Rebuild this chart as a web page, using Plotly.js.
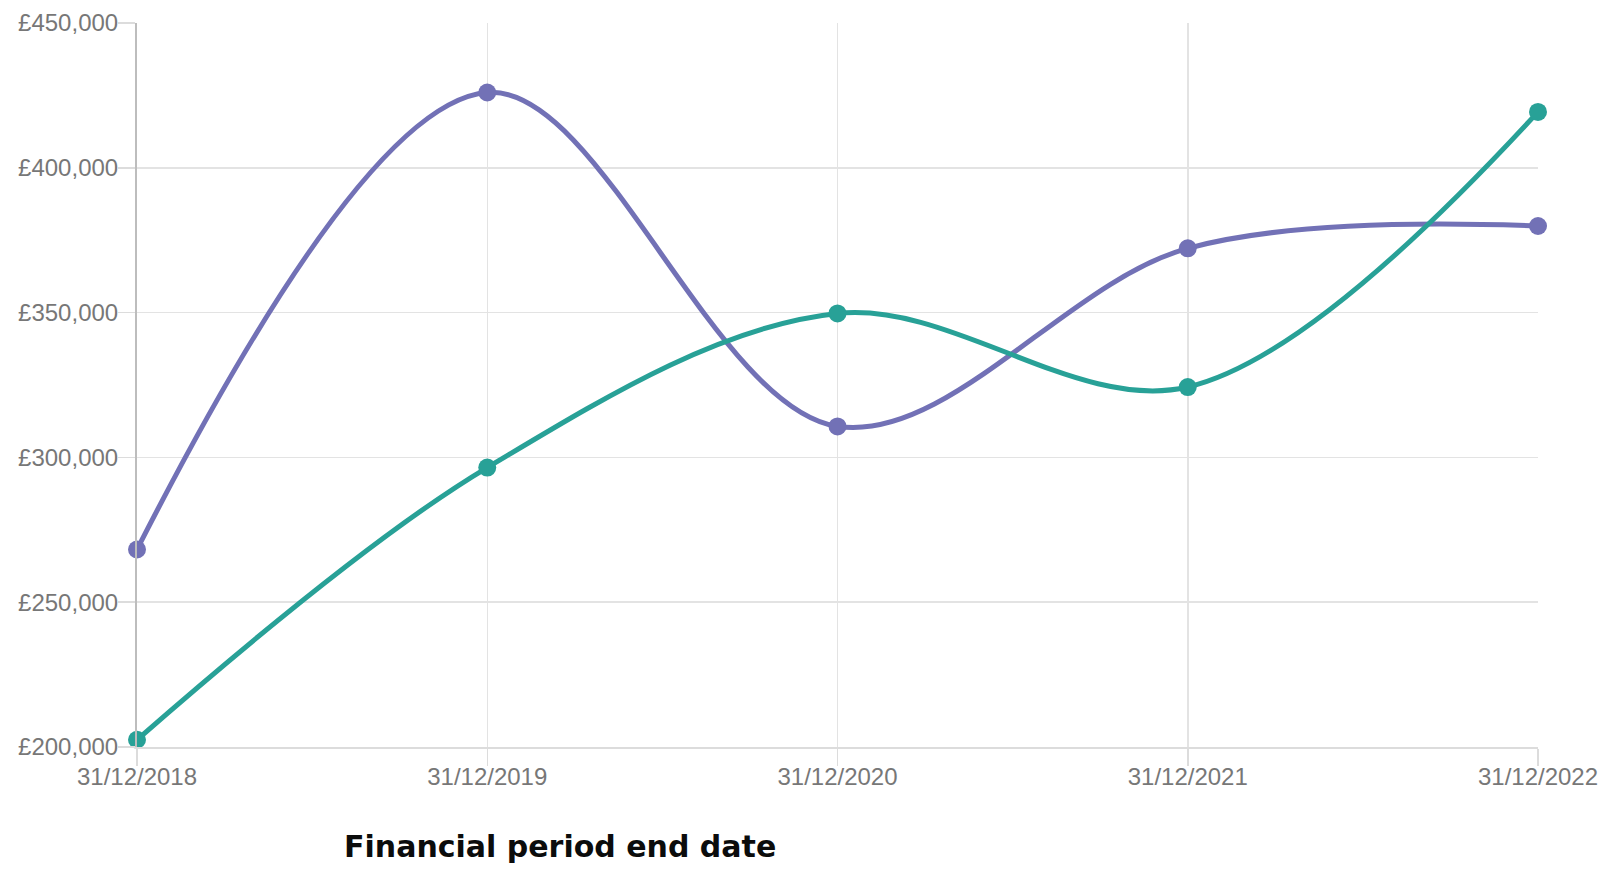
<!DOCTYPE html>
<html>
<head>
<meta charset="utf-8">
<script src="https://cdn.plot.ly/plotly-3.0.1.min.js"></script>
<style>
  html, body { margin: 0; padding: 0; background: #ffffff; }
  #chart { width: 1621px; height: 872px; }
</style>
</head>
<body>
<div id="chart"></div>
<script>
// Data
const periodEndDates = ["31/12/2018", "31/12/2019", "31/12/2020", "31/12/2021", "31/12/2022"];
const purpleSeries = [268200, 426000, 310700, 372200, 379900];
const tealSeries = [202500, 296500, 349700, 324300, 419300];
const xAxisTitle = "Financial period end date";

const purpleColour = "#7271b6";
const tealColour = "#28a197";

const traces = [
  {
    x: periodEndDates,
    y: purpleSeries,
    type: "scatter",
    mode: "lines+markers",
    line: { color: purpleColour, width: 5, shape: "spline", smoothing: 1 },
    marker: { color: purpleColour, size: 18 },
    cliponaxis: false,
    hoverinfo: "x+y"
  },
  {
    x: periodEndDates,
    y: tealSeries,
    type: "scatter",
    mode: "lines+markers",
    line: { color: tealColour, width: 5, shape: "spline", smoothing: 1 },
    marker: { color: tealColour, size: 18 },
    cliponaxis: false,
    hoverinfo: "x+y"
  }
];

const layout = {
  width: 1621,
  height: 872,
  paper_bgcolor: "#ffffff",
  plot_bgcolor: "#ffffff",
  showlegend: false,
  margin: { l: 137, r: 83, t: 23, b: 125, pad: 0 },
  font: { family: "Liberation Sans, Arial, sans-serif", size: 24, color: "#777777" },
  xaxis: {
    type: "category",
    range: [0, 4],
    showgrid: true,
    gridcolor: "#e3e3e3",
    gridwidth: 1.5,
    zeroline: false,
    showline: true,
    linecolor: "#dcdcdc",
    linewidth: 2,
    ticks: "outside",
    ticklen: 17,
    tickcolor: "#dcdcdc",
    tickwidth: 1.5,
    ticklabelstandoff: -10,
    tickfont: { family: "Liberation Sans, Arial, sans-serif", size: 24, color: "#777777" }
  },
  yaxis: {
    range: [200000, 450000],
    dtick: 50000,
    tick0: 200000,
    tickprefix: "£",
    tickformat: ",d",
    showgrid: true,
    gridcolor: "#e3e3e3",
    gridwidth: 1.5,
    zeroline: false,
    showline: true,
    linecolor: "#bdbdbd",
    linewidth: 2,
    ticks: "outside",
    ticklen: 17,
    tickcolor: "#dcdcdc",
    tickwidth: 1.5,
    ticklabelstandoff: -5,
    tickfont: { family: "Liberation Sans, Arial, sans-serif", size: 24, color: "#777777" }
  },
  annotations: [
    {
      text: "<b>" + xAxisTitle + "</b>",
      xref: "paper",
      yref: "paper",
      x: 0.146,
      y: -0.137,
      xanchor: "left",
      yanchor: "middle",
      showarrow: false,
      font: { family: "DejaVu Sans, sans-serif", size: 30, color: "#0b0c0c" }
    }
  ]
};

Plotly.newPlot("chart", traces, layout, { displayModeBar: false, staticPlot: true });
</script>
</body>
</html>
